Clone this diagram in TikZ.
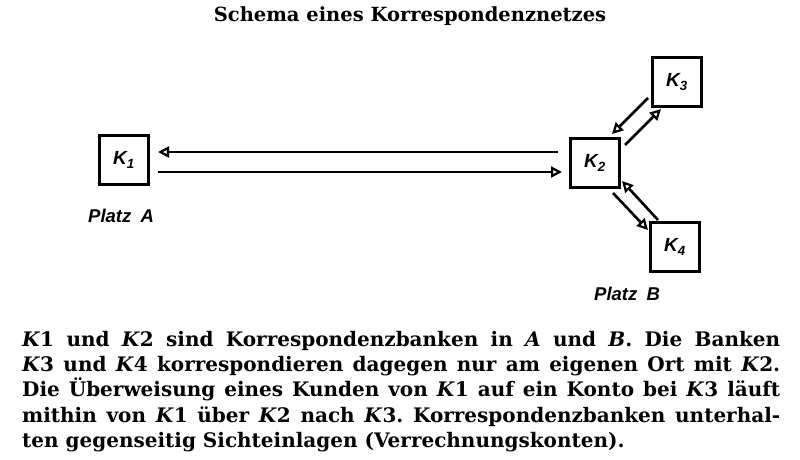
\documentclass[tikz,border=0pt]{standalone}
\usepackage{fontspec}
\setmainfont{DejaVu Serif}
\newfontfamily\labfont{Liberation Sans}
\usetikzlibrary{arrows.meta}
\tikzset{
  bank/.style={draw, line width=3.2pt, minimum width=49pt, minimum height=49pt, inner sep=0pt, font=\labfont\bfseries\itshape\fontsize{19}{19}\selectfont},
  link/.style={line width=2.6pt, -{Triangle[open, length=11pt, width=11pt, line width=2.2pt]}},
  place/.style={font=\labfont\bfseries\itshape\fontsize{18.5}{18}\selectfont, inner sep=0pt},
  body/.style={anchor=base west, inner sep=0pt, font=\bfseries\fontsize{20}{24}\selectfont},
}
\begin{document}
\begin{tikzpicture}[x=1pt, y=-1pt]
\useasboundingbox (0,0) rectangle (800,459);
\node[font=\bfseries\fontsize{19.5}{20}\selectfont, anchor=base] (title) at (410,21) {Schema eines Korrespondenznetzes};
\node[bank] (k1) at (124,160) {K\textsubscript{1}};
\node[bank] (k2) at (595,163) {K\textsubscript{2}};
\node[bank] (k3) at (677,82) {K\textsubscript{3}};
\node[bank] (k4) at (675,247) {K\textsubscript{4}};
\node[place, anchor=base west] (pa) at (88,222) {Platz\hspace{0.5em}A};
\node[place, anchor=base west] (pb) at (594,300) {Platz\hspace{0.5em}B};
\coordinate (a1) at (558,152);
\coordinate (a2) at (158,152);
\coordinate (b1) at (158,172);
\coordinate (b2) at (562,172);
\draw[link] (a1) -- (a2);
\draw[link] (b1) -- (b2);
\coordinate (c1) at (648,98);
\coordinate (c2) at (612,134);
\coordinate (d1) at (625,145);
\coordinate (d2) at (661,109);
\coordinate (e1) at (613,193);
\coordinate (e2) at (648,230);
\coordinate (f1) at (658,220);
\coordinate (f2) at (622,181);
\draw[link] (c1) -- (c2);
\draw[link] (d1) -- (d2);
\draw[link] (e1) -- (e2);
\draw[link] (f1) -- (f2);
\node[body] (l1) at (22,346) {\makebox[758pt][s]{\textit{K}1 und \textit{K}2 sind Korrespondenzbanken in \textit{A} und \textit{B}. Die Banken}};
\node[body] (l2) at (22,371) {\makebox[758pt][s]{\textit{K}3 und \textit{K}4 korrespondieren dagegen nur am eigenen Ort mit \textit{K}2.}};
\node[body] (l3) at (22,396) {\makebox[758pt][s]{Die Überweisung eines Kunden von \textit{K}1 auf ein Konto bei \textit{K}3 läuft}};
\node[body] (l4) at (22,422) {\makebox[758pt][s]{mithin von \textit{K}1 über \textit{K}2 nach \textit{K}3.\ Korrespondenzbanken unterhal-}};
\node[body] (l5) at (22,447) {ten gegenseitig Sichteinlagen (Verrechnungskonten).};
\end{tikzpicture}
\end{document}
